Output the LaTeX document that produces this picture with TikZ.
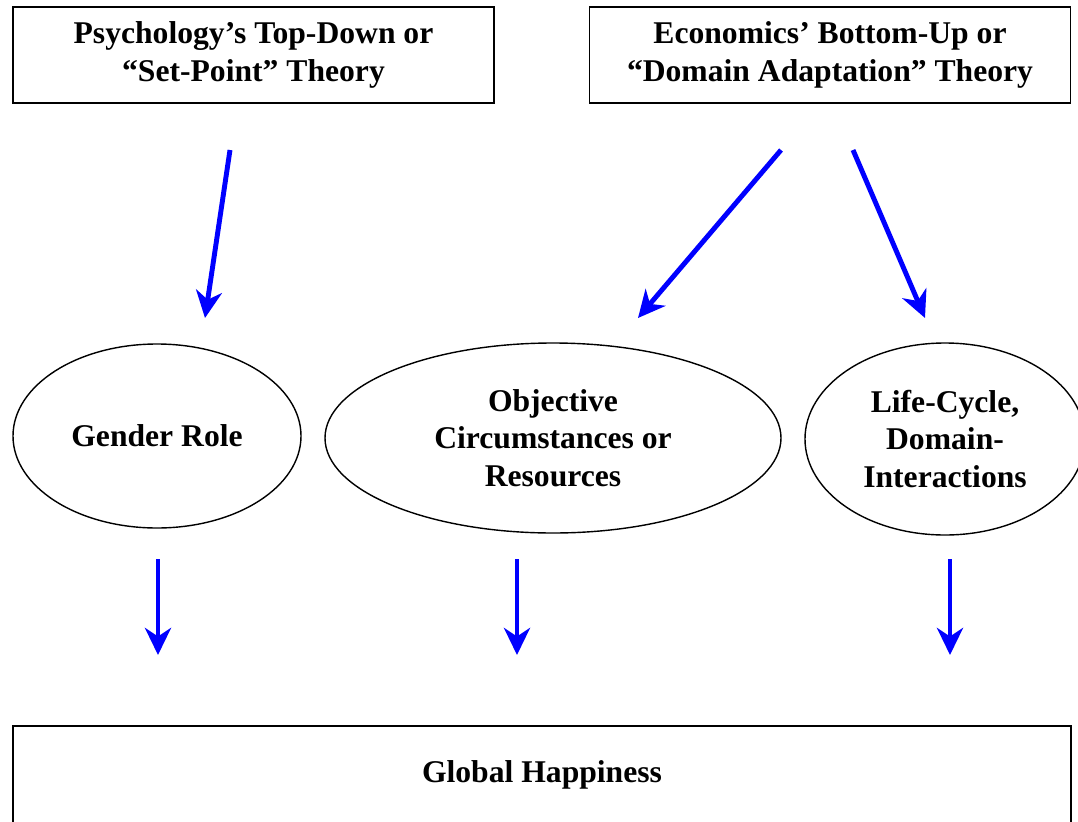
\documentclass[tikz,border=0pt]{standalone}
\usepackage{fontspec}
\setmainfont{Liberation Serif}
\usetikzlibrary{%
    shapes.geometric,arrows.meta
}

\begin{document}
\begin{tikzpicture}[
  theory/.style={draw,line width=1.1pt,align=center,minimum width=9.62cm,minimum height=1.92cm,font=\fontsize{18}{21.5}\selectfont\bfseries},
  factor/.style={draw,thick,ellipse,align=center,inner sep=0pt,font=\fontsize{18}{21.5}\selectfont\bfseries},
  link/.style={-{Stealth[length=5.4mm,width=5.2mm,inset=1.7mm]},line width=2.8pt,blue}
]
\useasboundingbox (0,0) rectangle (21.56,-16.42);
\clip (0,0) rectangle (21.56,-16.42);

\node[theory] (psy) at (5.07,-1.10) {Psychology’s Top-Down or\\“Set-Point” Theory};
\node[theory] (eco) at (16.60,-1.10) {Economics’ Bottom-Up or\\“Domain Adaptation” Theory};

\node[factor,minimum width=5.76cm,minimum height=3.68cm] (gender) at (3.14,-8.72) {Gender Role};
\node[factor,minimum width=9.12cm,minimum height=3.8cm] (obj) at (11.06,-8.76) {Objective\\Circumstances or\\Resources};
\node[factor,minimum width=5.6cm,minimum height=3.84cm] (life) at (18.9,-8.78) {Life-Cycle,\\Domain-\\Interactions};

\node[draw,line width=1.1pt,minimum width=21.16cm,minimum height=1.96cm,font=\fontsize{18}{21.5}\selectfont\bfseries] (global) at (10.84,-15.5) {Global Happiness};

% arrows float between the rows
\coordinate (t1) at (4.60,-3.0);   \coordinate (h1) at (4.10,-6.36);
\coordinate (t2) at (15.62,-3.0);  \coordinate (h2) at (12.76,-6.36);
\coordinate (t3) at (17.06,-3.0);  \coordinate (h3) at (18.50,-6.36);
\coordinate (b1) at (3.16,-11.18); \coordinate (g1) at (3.16,-13.1);
\coordinate (b2) at (10.34,-11.18); \coordinate (g2) at (10.34,-13.1);
\coordinate (b3) at (19.0,-11.18); \coordinate (g3) at (19.0,-13.1);

\draw[link] (t1)--(h1);
\draw[link] (t2)--(h2);
\draw[link] (t3)--(h3);
\draw[link] (b1)--(g1);
\draw[link] (b2)--(g2);
\draw[link] (b3)--(g3);
\end{tikzpicture}
\end{document}
